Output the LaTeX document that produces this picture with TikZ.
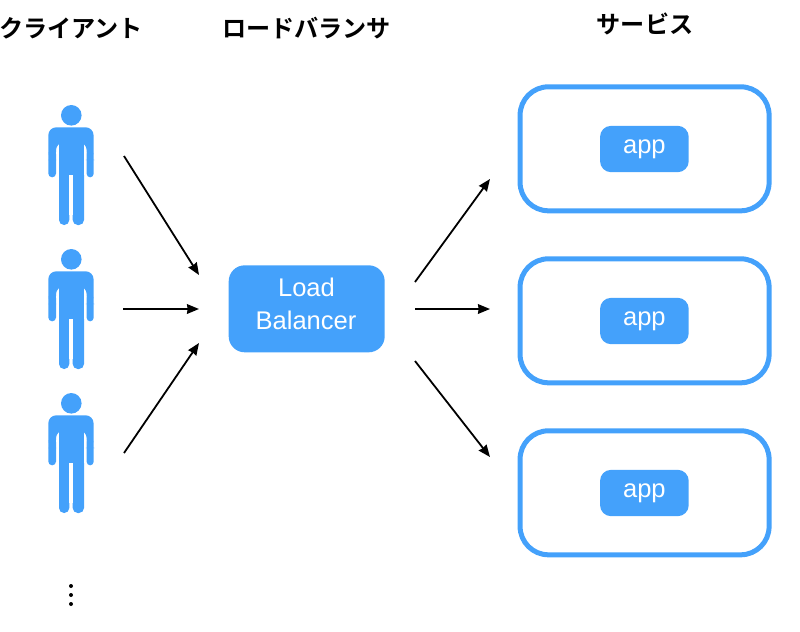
\documentclass[tikz,border=0pt]{standalone}
\usepackage{fontspec}
\setmainfont{Liberation Sans}
\newfontfamily\jpfont{Noto Sans CJK JP}[BoldFont={Noto Sans CJK JP Bold}]
\usetikzlibrary{calc,arrows.meta,positioning}
\definecolor{lbblue}{HTML}{44A1FB}
\tikzset{
  header/.style={font=\jpfont\bfseries\fontsize{20.6}{24}\selectfont,inner sep=0pt},
  bluetext/.style={font=\fontsize{21.8}{26}\selectfont,text=white,inner sep=0pt,align=center},
  lbbox/.style={fill=lbblue,rounded corners=0.48cm,minimum width=4.68cm,minimum height=2.61cm,inner sep=0pt},
  appbox/.style={fill=lbblue,rounded corners=0.33cm,minimum width=2.66cm,minimum height=1.39cm,inner sep=0pt},
  servicebox/.style={draw=lbblue,line width=5*0.03cm,rounded corners=0.85cm,minimum width=7.47cm,minimum height=3.72cm,inner sep=0pt},
  flow/.style={black,line width=1.8*0.03cm,-{Stealth[length=0.36cm,width=0.29cm,inset=0.02cm]}},
}
\begin{document}
\begin{tikzpicture}[x=0.03cm,y=-0.03cm]
  \useasboundingbox (0,0) rectangle (800,631);
  \node[header] (clienthead) at (71,28.5) {クライアント};
  \node[header] (lbhead) at (306.5,28.5) {ロードバランサ};
  \node[header] (servicehead) at (645,24) {サービス};

  % clients
  \foreach \i in {0,1,2} {
    \begin{scope}[yshift=-\i*144*0.03cm]
      \fill[lbblue] (71.3,115.3) circle (10.3);
      \fill[lbblue,rounded corners=8*0.03cm] (48.3,160) -- (48.3,127.3) -- (93.6,127.3) -- (93.6,160) -- (86.7,160)
        -- (86.7,142.3) -- (56,142.3) -- (56,160) -- cycle;
      \fill[lbblue] (59,135) rectangle (84,200);
      \fill[lbblue,rounded corners=3.8*0.03cm] (48.3,150) -- (48.3,177.3) -- (56,177.3) -- (56,150) -- cycle;
      \fill[lbblue,rounded corners=3.4*0.03cm] (86.7,150) -- (86.7,177.3) -- (93.6,177.3) -- (93.6,150) -- cycle;
      \fill[lbblue,rounded corners=5*0.03cm] (59,170) -- (59,225) -- (69.3,225) -- (69.3,170) -- cycle;
      \fill[lbblue,rounded corners=5*0.03cm] (72.7,170) -- (72.7,225) -- (84,225) -- (84,170) -- cycle;
      \fill[white] (69.3,175) rectangle (72.7,215);
    \end{scope}
  }
  \foreach \y in {586,595,604}
    \fill (71,\y) circle (2);

  \node[lbbox] (lb) at (306.7,308.8) {};
  \node[bluetext] (lbload) at (306.5,287.5) {Load};
  \node[bluetext] (lbbalancer) at (306,320.5) {Balancer};

  % services
  \foreach \i in {1,2,3} {
    \node[servicebox] (service\i) at (644.6,{148.8+(\i-1)*172}) {};
    \node[appbox] (app\i) at (644.4,{149+(\i-1)*172}) {};
    \node[bluetext] (applabel\i) at (644.4,{149+(\i-1)*172}) {app};
  }

  % arrow ends
  \coordinate (c1) at (124,156);
  \coordinate (c2) at (123,309);
  \coordinate (c3) at (124,453);
  \coordinate (in1) at (199,275);
  \coordinate (in2) at (199,309);
  \coordinate (in3) at (199,343);
  \coordinate (out1) at (415,282);
  \coordinate (out2) at (415,309);
  \coordinate (out3) at (415,361);
  \coordinate (s1) at (490,179);
  \coordinate (s2) at (490,309);
  \coordinate (s3) at (490,457);
  \foreach \i in {1,2,3} {
    \draw[flow] (c\i) -- (in\i);
    \draw[flow] (out\i) -- (s\i);
  }
\end{tikzpicture}
\end{document}
